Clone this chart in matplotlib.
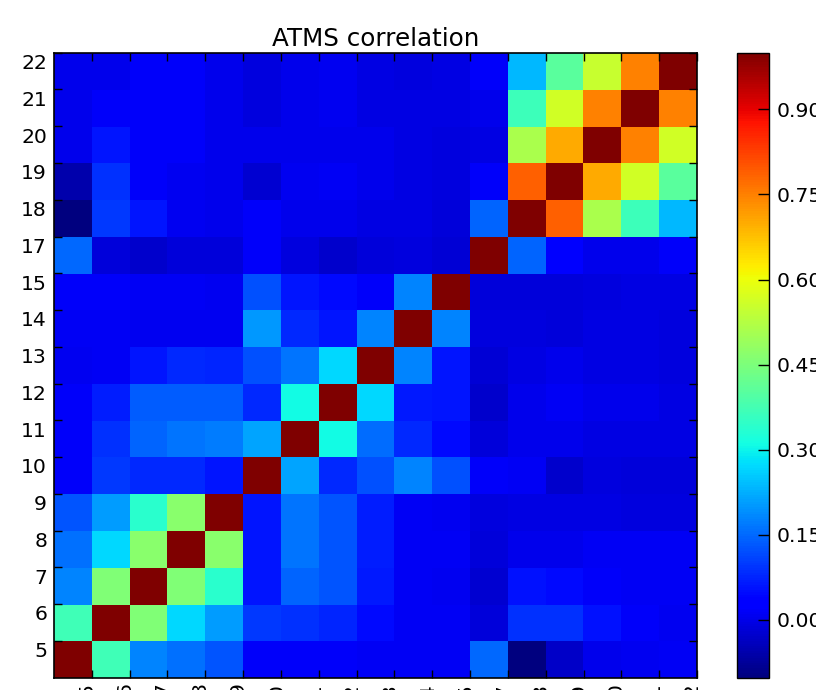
import numpy as np
import matplotlib
matplotlib.use('Agg')
from matplotlib import pyplot as plt

channels = [5, 6, 7, 8, 9, 10, 11, 12, 13, 14, 15, 17, 18, 19, 20, 21, 22]

# correlation rows, one per channel (bottom row = channel 5)
row_5 = [1.00, 0.37, 0.18, 0.16, 0.13, 0.016, 0.016, 0.016, 0.011, 0.011, 0.011, 0.15, -0.102, -0.03, 0.002, 0.007, 0.011]
row_6 = [0.37, 1.00, 0.455, 0.27, 0.205, 0.10, 0.09, 0.075, 0.048, 0.011, 0.011, -0.012, 0.09, 0.09, 0.054, 0.016, 0.007]
row_7 = [0.18, 0.455, 1.00, 0.455, 0.34, 0.06, 0.145, 0.13, 0.064, 0.011, 0.007, -0.022, 0.054, 0.048, 0.016, 0.011, 0.011]
row_8 = [0.16, 0.27, 0.47, 1.00, 0.47, 0.06, 0.162, 0.13, 0.07, 0.011, 0.011, -0.012, 0.002, 0.002, 0.011, 0.011, 0.011]
row_9 = [0.13, 0.205, 0.34, 0.47, 1.00, 0.06, 0.162, 0.13, 0.07, 0.011, 0.007, -0.008, -0.003, -0.003, -0.003, -0.008, -0.008]
row_10 = [0.016, 0.10, 0.08, 0.08, 0.06, 1.00, 0.216, 0.08, 0.124, 0.178, 0.124, 0.016, 0.011, -0.027, -0.008, -0.012, -0.012]
row_11 = [0.016, 0.09, 0.145, 0.162, 0.172, 0.216, 1.00, 0.31, 0.156, 0.08, 0.048, -0.012, 0.002, 0.002, -0.003, -0.003, -0.003]
row_12 = [0.016, 0.07, 0.135, 0.135, 0.135, 0.08, 0.31, 1.00, 0.27, 0.064, 0.06, -0.027, 0.002, 0.011, 0.002, 0.002, -0.003]
row_13 = [0.007, 0.011, 0.06, 0.08, 0.075, 0.124, 0.162, 0.27, 1.00, 0.178, 0.06, -0.017, -0.003, 0.002, -0.003, -0.003, -0.008]
row_14 = [0.011, 0.011, 0.007, 0.007, 0.007, 0.20, 0.08, 0.06, 0.178, 1.00, 0.178, -0.008, -0.008, -0.012, -0.003, -0.003, -0.008]
row_15 = [0.016, 0.016, 0.011, 0.011, 0.007, 0.124, 0.06, 0.045, 0.016, 0.178, 1.00, -0.012, -0.012, -0.012, -0.008, -0.003, -0.003]
row_17 = [0.15, -0.012, -0.027, -0.012, -0.012, 0.016, -0.008, -0.027, -0.012, -0.008, -0.017, 1.00, 0.145, 0.03, 0.002, 0.002, 0.016]
row_18 = [-0.102, 0.10, 0.06, 0.007, 0.002, 0.016, 0.002, 0.002, -0.003, -0.003, -0.012, 0.145, 1.00, 0.785, 0.51, 0.366, 0.237]
row_19 = [-0.055, 0.09, 0.016, 0.007, 0.002, -0.022, 0.007, 0.011, 0.002, -0.003, -0.008, 0.016, 0.785, 1.00, 0.70, 0.565, 0.405]
row_20 = [0.002, 0.06, 0.016, 0.016, 0.002, 0.002, 0.002, 0.002, 0.002, -0.003, -0.008, -0.003, 0.51, 0.70, 1.00, 0.75, 0.565]
row_21 = [0.002, 0.016, 0.016, 0.016, 0.002, -0.008, 0.002, 0.007, -0.003, -0.003, -0.003, 0.002, 0.366, 0.565, 0.75, 1.00, 0.75]
row_22 = [0.002, 0.002, 0.016, 0.016, 0.002, -0.008, 0.002, 0.007, -0.003, -0.008, -0.003, 0.016, 0.237, 0.405, 0.55, 0.75, 1.00]

corr = np.array([row_5, row_6, row_7, row_8, row_9, row_10, row_11, row_12,
                 row_13, row_14, row_15, row_17, row_18, row_19, row_20,
                 row_21, row_22])
n = len(channels)

W, H = 816, 690
fig = plt.figure(figsize=(W / 100, H / 100), dpi=100)
ax = fig.add_axes([54 / W, (H - 677.7) / H, 643 / W, 625 / H])
im = ax.imshow(corr, cmap='jet', origin='lower', interpolation='nearest',
               aspect='auto', extent=(0, n, 0, n))

# tick marks on cell edges, labels placed separately
edges = np.arange(1, n + 1)
ax.set_xticks(edges)
ax.set_yticks(edges)
ax.set_xticks(np.arange(n) + 0.87, minor=True)
ax.set_yticks(np.arange(n) + 0.76, minor=True)
ax.set_xticklabels(channels, minor=True, rotation=90)
ax.set_yticklabels(channels, minor=True)
ax.tick_params(which='major', direction='in', length=6, width=1,
               top=True, right=True, labelbottom=False, labelleft=False)
ax.tick_params(which='minor', length=0, pad=5, labelsize=14.7)
ax.tick_params(axis='x', which='minor', pad=3.5)
for s in ax.spines.values():
    s.set_linewidth(1.2)

ax.set_title('ATMS correlation', fontsize=17.7, pad=5)

cax = fig.add_axes([737.3 / W, (H - 677.7) / H, 32 / W, 625 / H])
cb = fig.colorbar(im, cax=cax, ticks=np.arange(0, 0.91, 0.15), format='%.2f')
cax.tick_params(direction='in', length=8, width=1, labelsize=14.7, pad=5)
cb.outline.set_linewidth(1)

plt.savefig('out.png', dpi=100)
